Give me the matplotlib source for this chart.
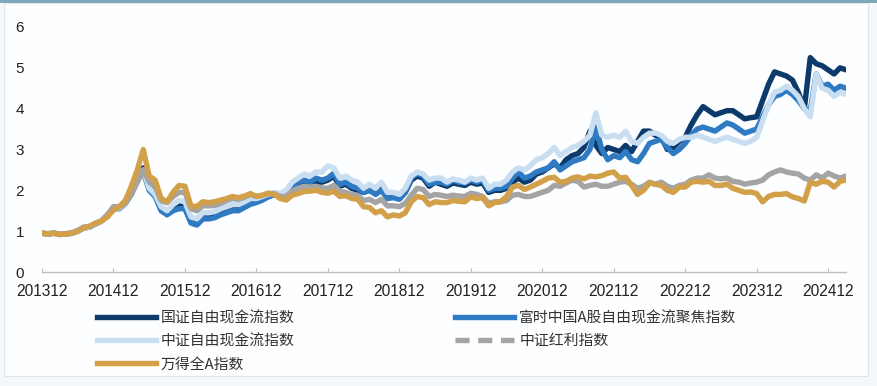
import matplotlib
matplotlib.use("Agg")
import matplotlib.pyplot as plt
from matplotlib.patches import Rectangle
from matplotlib.lines import Line2D
import numpy as np

plt.rcParams['font.family'] = ['Noto Sans CJK SC', 'DejaVu Sans']

tick_labels = ['201312', '201412', '201512', '201612', '201712', '201812',
               '201912', '202012', '202112', '202212', '202312', '202412']

# monthly values, Dec 2013 .. Mar 2025 (136 points)
gz_fcf = [0.95, 0.93, 0.95, 0.92, 0.93, 0.95, 1.0, 1.08, 1.1, 1.18, 1.25, 1.4,
          1.55, 1.58, 1.7, 1.95, 2.3, 2.55, 2.1, 1.95, 1.55, 1.45, 1.6, 1.68,
          1.65, 1.25, 1.2, 1.35, 1.35, 1.38, 1.45, 1.5, 1.55, 1.55, 1.62, 1.7,
          1.72, 1.78, 1.85, 1.9, 1.88, 1.95, 2.1, 2.15, 2.2, 2.15, 2.2, 2.2,
          2.25, 2.35, 2.1, 2.15, 2.05, 2.0, 1.95, 2.0, 1.95, 2.1, 1.85, 1.85,
          1.8, 1.95, 2.25, 2.35, 2.3, 2.1, 2.2, 2.15, 2.1, 2.18, 2.15, 2.12,
          2.2, 2.15, 2.18, 1.95, 2.0, 2.0, 2.05, 2.2, 2.3, 2.2, 2.25, 2.4,
          2.45, 2.55, 2.65, 2.55, 2.75, 2.85, 2.9, 3.05, 3.45, 3.1, 2.9, 3.05,
          3.0, 2.95, 3.1, 2.95, 3.2, 3.45, 3.45, 3.35, 3.3, 3.0, 3.05, 3.2,
          3.3, 3.6, 3.85, 4.05, 3.95, 3.85, 3.9, 3.95, 3.95, 3.85, 3.75, 3.78,
          3.8, 4.2, 4.6, 4.9, 4.85, 4.8, 4.7, 4.4, 4.0, 5.25, 5.1, 5.05,
          4.95, 4.85, 5.0, 4.95]

ftse_fcf = [0.95, 0.93, 0.95, 0.92, 0.93, 0.95, 1.0, 1.08, 1.1, 1.18, 1.25, 1.4,
            1.55, 1.55, 1.68, 1.9, 2.25, 2.45, 2.0, 1.85, 1.5, 1.4, 1.5, 1.55,
            1.55, 1.2, 1.15, 1.3, 1.3, 1.33, 1.4, 1.45, 1.5, 1.5, 1.58, 1.66,
            1.7, 1.76, 1.84, 1.9, 1.88, 1.95, 2.1, 2.2, 2.25, 2.2, 2.3, 2.25,
            2.3, 2.42, 2.15, 2.2, 2.1, 2.05, 1.95, 2.0, 1.9, 2.0, 1.8, 1.82,
            1.78, 1.95, 2.3, 2.42, 2.35, 2.15, 2.2, 2.2, 2.15, 2.25, 2.2, 2.18,
            2.25, 2.2, 2.25, 2.0, 2.05, 2.05, 2.1, 2.3, 2.45, 2.3, 2.35, 2.45,
            2.5, 2.55, 2.7, 2.5, 2.6, 2.7, 2.75, 2.8, 3.0, 3.55, 3.0, 2.75,
            2.85, 2.8, 2.95, 2.75, 2.7, 2.9, 3.15, 3.2, 3.25, 3.05, 2.9, 3.0,
            3.15, 3.35, 3.5, 3.55, 3.5, 3.45, 3.55, 3.65, 3.6, 3.5, 3.4, 3.45,
            3.5, 3.8, 4.1, 4.3, 4.35, 4.45, 4.35, 4.2, 4.0, 3.95, 4.85, 4.55,
            4.6, 4.45, 4.55, 4.5]

zz_fcf = [0.95, 0.93, 0.95, 0.92, 0.93, 0.95, 1.0, 1.08, 1.1, 1.18, 1.25, 1.4,
          1.55, 1.57, 1.7, 2.0, 2.35, 2.5, 2.05, 1.9, 1.6, 1.5, 1.65, 1.75,
          1.72, 1.35, 1.3, 1.45, 1.45, 1.48, 1.55, 1.6, 1.65, 1.65, 1.72, 1.8,
          1.8, 1.85, 1.9, 1.95, 1.92, 2.0, 2.2, 2.3, 2.4, 2.35, 2.45, 2.45,
          2.6, 2.55, 2.3, 2.35, 2.25, 2.2, 2.05, 2.15, 2.05, 2.2, 1.95, 1.95,
          1.9, 2.05, 2.35, 2.45, 2.4, 2.25, 2.3, 2.3, 2.2, 2.28, 2.25, 2.2,
          2.3, 2.25, 2.3, 2.05, 2.15, 2.15, 2.25, 2.45, 2.55, 2.5, 2.6, 2.75,
          2.8, 2.9, 3.05, 2.85, 2.95, 3.05, 3.1, 3.2, 3.35, 3.9, 3.35, 3.3,
          3.35, 3.3, 3.45, 3.2, 3.15, 3.3, 3.4, 3.4, 3.35, 3.2, 3.15, 3.25,
          3.3, 3.3, 3.35, 3.3, 3.25, 3.2, 3.25, 3.3, 3.25, 3.2, 3.15, 3.2,
          3.3, 3.7, 4.1, 4.4, 4.45, 4.55, 4.45, 4.3, 4.0, 3.8, 4.85, 4.5,
          4.45, 4.3, 4.4, 4.35]

zz_div = [0.95, 0.94, 0.95, 0.93, 0.94, 0.96, 1.02, 1.1, 1.12, 1.18, 1.25, 1.4,
          1.6, 1.6, 1.68, 1.9, 2.2, 2.5, 2.2, 2.1, 1.75, 1.7, 1.85, 1.95,
          1.95, 1.55, 1.5, 1.62, 1.62, 1.63, 1.68, 1.75, 1.8, 1.78, 1.83, 1.9,
          1.85, 1.88, 1.92, 1.92, 1.85, 1.85, 1.98, 2.05, 2.1, 2.08, 2.1, 2.06,
          2.05, 2.12, 1.98, 1.95, 1.9, 1.88, 1.75, 1.78, 1.7, 1.78, 1.62, 1.62,
          1.6, 1.68, 1.88, 2.05, 2.02, 1.85, 1.9, 1.88, 1.85, 1.88, 1.86, 1.85,
          1.93, 1.9, 1.85, 1.68, 1.72, 1.72, 1.75, 1.88, 1.9, 1.85, 1.85, 1.9,
          1.95, 2.0, 2.12, 2.1, 2.18, 2.25, 2.22, 2.08, 2.12, 2.15, 2.1, 2.1,
          2.15, 2.2, 2.22, 2.15, 2.05, 2.1, 2.2, 2.15, 2.2, 2.1, 2.05, 2.12,
          2.15, 2.25, 2.3, 2.3, 2.38, 2.3, 2.28, 2.3, 2.22, 2.2, 2.15, 2.18,
          2.2, 2.25, 2.38, 2.45, 2.5, 2.45, 2.42, 2.4, 2.3, 2.25, 2.38, 2.3,
          2.42, 2.35, 2.3, 2.35]

wind_a = [0.95, 0.93, 0.95, 0.92, 0.93, 0.95, 1.0, 1.08, 1.12, 1.2, 1.25, 1.35,
          1.52, 1.6, 1.75, 2.1, 2.5, 3.0, 2.35, 2.25, 1.8, 1.72, 1.95, 2.12,
          2.1, 1.62, 1.6, 1.72, 1.7, 1.72, 1.76, 1.8, 1.85, 1.82, 1.86, 1.92,
          1.85, 1.88, 1.93, 1.9, 1.8, 1.76, 1.88, 1.92, 1.97, 1.98, 2.0, 1.95,
          1.93, 1.98, 1.85, 1.87, 1.8, 1.78, 1.6, 1.58, 1.45, 1.5, 1.35, 1.4,
          1.37, 1.45, 1.72, 1.85, 1.82, 1.65, 1.72, 1.7, 1.7, 1.75, 1.73, 1.72,
          1.84, 1.8, 1.82, 1.62, 1.7, 1.72, 1.85, 2.08, 2.12, 2.02, 2.08, 2.15,
          2.22, 2.3, 2.32, 2.2, 2.22, 2.3, 2.33, 2.28, 2.35, 2.33, 2.36, 2.42,
          2.45, 2.3, 2.32, 2.12, 1.9, 2.0, 2.18, 2.15, 2.12, 2.0, 1.95, 2.08,
          2.08, 2.2, 2.22, 2.2, 2.22, 2.12, 2.12, 2.15, 2.05, 2.0, 1.95, 1.96,
          1.92, 1.72, 1.85, 1.9, 1.9, 1.92, 1.84, 1.8, 1.74, 2.2, 2.15, 2.22,
          2.2, 2.08, 2.22, 2.25]

names = ['国证自由现金流指数', '富时中国A股自由现金流聚焦指数', '中证自由现金流指数',
         '中证红利指数', '万得全A指数']
colors = ['#0b3a6b', '#2f7bc3', '#c9def1', '#a4a4a4', '#d3a04a']

W, H = 878, 386
fig = plt.figure(figsize=(W / 100, H / 100), dpi=100)
fig.patch.set_facecolor('#f4f8fa')
fig.add_artist(Rectangle((4 / W, 1 - 376 / H), 864 / W, 373 / H, transform=fig.transFigure,
                         facecolor='#fdfeff', edgecolor='#dde6ec', lw=0.8, zorder=0))
fig.add_artist(Rectangle((0, 1 - 3 / H), 1, 3 / H, transform=fig.transFigure,
                         facecolor='#7ea7ba', edgecolor='none', zorder=1))

ax = fig.add_axes([42 / W, 1 - 272 / H, 804 / W, 245 / H])
ax.set_facecolor('none')
x = np.arange(len(wind_a))

LW = 3.9
series = [gz_fcf, ftse_fcf, zz_fcf, zz_div, wind_a]
for s, c, n in zip(series, colors, names):
    ax.plot(x, s, color=c, lw=LW, label=n, solid_capstyle='round',
            solid_joinstyle='round')

ax.set_xlim(0, 135)
ax.set_ylim(0, 6)
ax.set_yticks(range(0, 7))
ax.set_xticks(np.arange(0, 133, 12))
ax.set_xticklabels(tick_labels)
for sp in ['top', 'right', 'left']:
    ax.spines[sp].set_visible(False)
ax.spines['bottom'].set_color('#bdbdbd')
ax.spines['bottom'].set_linewidth(1.0)
ax.tick_params(axis='x', direction='in', length=3, color='#bdbdbd', pad=9,
               labelsize=11.2, labelcolor='#222222')
ax.tick_params(axis='y', length=0, pad=13, labelsize=11, labelcolor='#222222')
for lab in ax.get_xticklabels() + ax.get_yticklabels():
    lab.set_family(['Liberation Sans', 'DejaVu Sans'])

handles = [Line2D([], [], color=colors[0], lw=LW),
           Line2D([], [], color=colors[2], lw=LW),
           Line2D([], [], color=colors[4], lw=LW),
           Line2D([], [], color=colors[1], lw=LW),
           Line2D([], [], color=colors[3], lw=LW, dashes=(2.6, 1.6))]
labels = [names[0], names[2], names[4], names[1], names[3]]
fig.legend(handles, labels, loc='upper left', bbox_to_anchor=(97 / W, 1 - 311 / H),
           ncol=2, frameon=False, fontsize=10.7, handlelength=3.97, handletextpad=0.33,
           columnspacing=10.8, labelspacing=0.6, borderpad=0, borderaxespad=0,
           labelcolor='#333333')

fig.savefig('out.png', dpi=100, facecolor=fig.get_facecolor())
